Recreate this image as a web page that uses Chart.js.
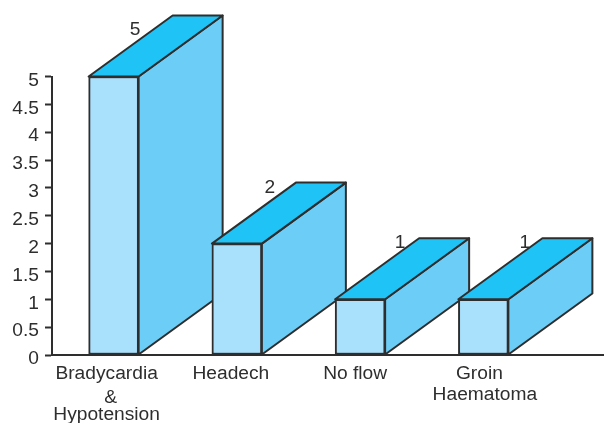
<!DOCTYPE html>
<html>
<head>
<meta charset="utf-8">
<style>
  body { margin: 0; background: #fff; }
  canvas { display: block; }
</style>
<script src="https://cdn.jsdelivr.net/npm/chart.js@4/dist/chart.umd.min.js"></script>
</head>
<body>
<canvas id="chart" width="604" height="423"></canvas>
<script>
const categories = ["Bradycardia", "Headech", "No flow", "Groin"];
const labelLines = [["Bradycardia", "&", "Hypotension"], ["Headech"], ["No flow"], ["Groin", "Haematoma"]];
const values = [5, 2, 1, 1];

const INK = "#2e2e2e";
const FONT = '19.2px "Liberation Sans", Arial, sans-serif';
const DEPTH_X = 84;
const DEPTH_Y = 61;
const STROKE = 2;

// hand placed, the labels in the source are not centred on anything
const valueNudge = [[21.5, -47], [33, -56], [40, -57], [41.5, -57]];
const labelNudge = [[[-7, 19], [-3, 43], [-7, 60]], [[-6, 19]], [[-5, 19]], [[-4, 19], [1.5, 40]]];

function face(ctx, pts, fill) {
  ctx.beginPath();
  pts.forEach((p, i) => (i ? ctx.lineTo(p[0], p[1]) : ctx.moveTo(p[0], p[1])));
  ctx.closePath();
  ctx.fillStyle = fill;
  ctx.fill();
  ctx.stroke();
}

const boxes = {
  id: "boxes",
  // side and top go under the bars, so each front covers the box to its left
  beforeDatasetsDraw(chart) {
    const ctx = chart.ctx;
    ctx.save();
    ctx.strokeStyle = INK;
    ctx.lineWidth = STROKE;
    ctx.lineJoin = "round";
    chart.getDatasetMeta(0).data.forEach((bar) => {
      const l = bar.x - bar.width / 2, r = bar.x + bar.width / 2;
      face(ctx, [[r, bar.y], [r + DEPTH_X, bar.y - DEPTH_Y], [r + DEPTH_X, bar.base - DEPTH_Y], [r, bar.base]], "#6ccdf6");
      face(ctx, [[l, bar.y], [l + DEPTH_X, bar.y - DEPTH_Y], [r + DEPTH_X, bar.y - DEPTH_Y], [r, bar.y]], "#20c3f5");
    });
    ctx.restore();
  },
  afterDatasetsDraw(chart) {
    const ctx = chart.ctx;
    const xs = chart.scales.x, y0 = chart.scales.y.getPixelForValue(0);
    ctx.save();
    ctx.strokeStyle = INK;
    ctx.lineWidth = STROKE;
    ctx.beginPath();
    ctx.moveTo(chart.chartArea.left, y0);
    ctx.lineTo(chart.width, y0);
    ctx.stroke();

    ctx.font = FONT;
    ctx.fillStyle = INK;
    ctx.textAlign = "center";
    ctx.textBaseline = "middle";
    chart.getDatasetMeta(0).data.forEach((bar, i) => {
      ctx.fillText(String(values[i]), bar.x + valueNudge[i][0], bar.y + valueNudge[i][1]);
      labelLines[i].forEach((line, j) => {
        const n = labelNudge[i][j];
        ctx.fillText(line, xs.getPixelForValue(i) + n[0], y0 + n[1]);
      });
    });
    ctx.restore();
  }
};

new Chart(document.getElementById("chart"), {
  type: "bar",
  data: {
    labels: categories,
    datasets: [{
      data: values,
      backgroundColor: "#a9e0fc",
      borderColor: INK,
      borderWidth: STROKE,
      borderSkipped: false,
      barThickness: 50
    }]
  },
  options: {
    responsive: false,
    animation: false,
    events: [],
    layout: { padding: { top: 76.5, right: 59, bottom: 68, left: 0 } },
    plugins: { legend: { display: false }, tooltip: { enabled: false } },
    scales: {
      x: {
        grid: { display: false },
        border: { display: false },
        ticks: { display: false },
        afterFit(scale) { scale.height = 0; }
      },
      y: {
        min: 0,
        max: 5,
        afterFit(scale) { scale.width = 52; },
        grid: { drawOnChartArea: false, tickLength: 7, tickColor: INK, tickWidth: STROKE },
        border: { color: INK, width: STROKE },
        ticks: {
          stepSize: 0.5,
          padding: 6,
          labelOffset: 4,
          color: INK,
          font: { family: '"Liberation Sans", Arial, sans-serif', size: 19.2 },
          callback: (v) => String(v)
        }
      }
    }
  },
  plugins: [boxes]
});
</script>
</body>
</html>
